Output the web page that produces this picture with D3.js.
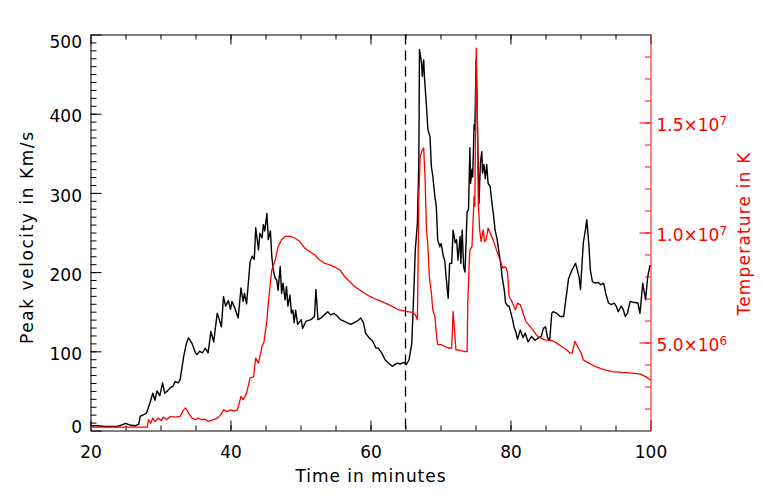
<!DOCTYPE html>
<html><head><meta charset="utf-8">
<script src="https://cdn.jsdelivr.net/npm/d3@7"></script>
<style>body{margin:0;background:#fff} svg text{font-family:"DejaVu Sans",sans-serif}</style>
</head><body><svg id="c" width="763" height="503"></svg>
<script>
// ---- data ----
const velTime = [20.0,21.0,22.0,23.0,23.8,24.5,25.0,25.6,26.4,26.9,27.1,27.6,28.0,28.5,28.9,29.2,29.5,29.9,30.3,30.6,31.0,31.4,31.8,32.1,32.5,32.8,33.3,33.7,34.0,34.5,35.0,35.2,35.6,36.0,36.4,36.8,37.2,37.6,38.1,38.4,38.7,39.0,39.3,39.7,40.0,40.2,40.6,41.1,41.5,41.8,42.0,42.3,42.8,43.1,43.4,43.6,44.0,44.2,44.5,44.7,44.9,45.2,45.4,45.7,45.9,46.1,46.4,46.6,46.8,47.1,47.3,47.5,47.8,48.0,48.2,48.5,48.7,48.9,49.1,49.3,49.6,50.1,50.3,50.8,51.5,52.0,52.2,52.5,52.9,53.4,53.9,54.3,54.8,55.3,55.7,56.2,56.7,57.2,57.6,58.1,58.6,59.0,59.3,59.8,60.3,60.8,61.1,61.6,62.1,62.6,63.1,63.8,64.3,64.8,65.1,65.5,65.9,66.2,66.4,66.7,66.9,67.0,67.3,67.4,67.6,67.7,68.0,68.2,68.5,68.7,68.9,69.2,69.4,69.6,69.9,70.1,70.4,70.6,70.8,71.1,71.3,71.6,71.8,72.1,72.3,72.5,72.8,72.9,73.1,73.3,73.5,73.8,74.0,74.2,74.3,74.5,74.6,74.8,74.9,75.1,75.3,75.5,75.7,75.9,76.0,76.2,76.4,76.6,76.8,77.1,77.3,77.6,77.8,78.1,78.3,78.6,78.8,79.1,79.3,79.6,79.8,80.0,80.3,80.5,80.8,81.0,81.4,81.8,82.1,82.5,83.0,83.5,84.0,84.4,84.7,85.0,85.3,85.6,85.9,86.1,86.6,87.1,87.6,87.9,88.3,88.8,89.3,89.8,90.0,90.4,90.7,90.9,91.2,91.4,91.7,92.1,92.5,92.9,93.3,93.6,94.0,94.4,94.8,95.1,95.4,95.8,96.1,96.4,96.7,97.1,97.5,98.2,98.5,98.9,99.3,99.6,99.9,100.0];
const velValue = [6,6,5,5,5,7,9,7,6,8,18,20,22,35,47,38,50,44,60,47,50,54,56,62,60,64,93,110,117,110,98,96,100,98,104,98,125,112,148,140,131,169,157,164,153,163,155,142,180,163,173,160,213,220,216,256,228,249,243,260,252,274,241,252,220,203,192,190,177,207,173,186,165,182,157,171,148,152,136,152,134,140,129,138,140,144,178,140,142,146,150,146,148,144,140,138,136,134,136,138,142,136,123,117,113,104,104,98,89,85,81,85,84,86,83,89,110,178,228,262,338,481,464,447,468,447,409,380,371,333,321,295,283,241,232,236,220,215,194,167,211,211,253,237,241,215,245,211,253,207,200,276,279,357,312,330,320,386,380,468,370,287,338,352,325,336,318,336,312,308,291,270,253,241,228,211,194,178,161,157,157,150,140,131,123,115,127,117,123,112,119,114,117,119,129,131,117,114,148,150,148,144,144,165,192,203,211,194,178,237,253,266,234,203,188,186,187,184,186,173,161,159,161,157,150,157,153,144,148,163,162,161,148,186,165,194,207,209];

const tempTime = [20.0,28.1,28.3,28.6,28.9,29.2,29.7,30.1,30.4,30.9,31.4,32.1,32.8,33.3,33.6,34.0,34.5,35.0,35.4,35.9,36.3,36.8,37.6,38.1,38.6,39.0,39.5,40.0,40.5,41.0,41.5,41.8,42.3,42.8,43.3,43.6,44.0,44.5,44.8,45.2,45.4,45.7,45.9,46.4,46.8,47.3,47.8,48.5,49.2,49.9,50.6,51.3,52.0,52.7,53.4,54.2,54.9,55.6,56.3,57.0,57.7,58.4,59.1,59.8,60.5,61.1,62.1,63.1,64.0,65.0,66.0,66.4,66.7,66.8,66.9,67.1,67.4,67.6,67.8,68.0,68.2,68.4,68.7,68.9,69.2,69.4,69.6,70.1,70.6,71.1,71.6,71.8,72.0,72.2,72.8,73.5,73.8,73.9,74.1,74.2,74.5,74.8,74.9,75.1,75.3,75.4,75.6,75.8,76.1,76.3,76.5,76.8,77.0,77.5,78.0,78.5,78.9,79.2,79.4,79.6,79.8,80.2,80.7,81.0,81.4,81.8,82.2,83.0,83.9,84.9,85.9,86.6,87.3,88.0,88.5,88.8,89.2,89.7,90.1,90.4,91.2,92.1,93.1,93.8,94.5,95.9,97.4,98.6,99.3,99.8,100.0];
const tempValue = [1.15e6,1.15e6,1.49e6,1.33e6,1.56e6,1.41e6,1.56e6,1.45e6,1.61e6,1.49e6,1.64e6,1.61e6,1.64e6,1.94e6,2.02e6,1.79e6,1.56e6,1.49e6,1.56e6,1.49e6,1.52e6,1.41e6,1.49e6,1.56e6,1.71e6,1.94e6,1.86e6,1.94e6,1.88e6,1.94e6,2.55e6,2.40e6,2.70e6,3.38e6,3.45e6,4.29e6,4.06e6,4.82e6,5.05e6,6.03e6,6.79e6,7.70e6,8.30e6,8.76e6,9.36e6,9.67e6,9.82e6,9.82e6,9.75e6,9.59e6,9.29e6,9.14e6,8.99e6,8.76e6,8.61e6,8.53e6,8.43e6,8.30e6,8.00e6,7.77e6,7.55e6,7.40e6,7.25e6,7.12e6,7.00e6,6.94e6,6.79e6,6.64e6,6.49e6,6.41e6,6.37e6,6.26e6,6.03e6,8.61e6,11.64e6,13.45e6,13.76e6,13.84e6,12.40e6,10.12e6,9.37e6,8.00e6,7.25e6,6.49e6,6.18e6,5.43e6,4.90e6,4.90e6,4.82e6,4.75e6,4.75e6,6.41e6,5.58e6,4.67e6,4.64e6,4.59e6,4.59e6,6.79e6,8.61e6,9.21e6,9.36e6,11.64e6,11.20e6,18.38e6,14.67e6,11.34e6,10.12e6,9.59e6,10.12e6,9.59e6,9.67e6,10.20e6,10.05e6,9.67e6,9.21e6,8.76e6,8.38e6,8.45e6,8.38e6,8.10e6,7.09e6,6.86e6,6.49e6,6.79e6,6.71e6,6.34e6,5.95e6,5.65e6,5.27e6,5.12e6,5.09e6,4.97e6,4.82e6,4.67e6,4.52e6,4.52e6,5.05e6,4.75e6,4.52e6,4.21e6,4.06e6,3.91e6,3.79e6,3.73e6,3.68e6,3.64e6,3.61e6,3.56e6,3.45e6,3.34e6,3.30e6];

const xMajorTicks = [20,40,60,80,100];
const velMajorTicks = [0,100,200,300,400,500];
const tempMajorTicks = [5e6,1e7,1.5e7];
const tempTickMantissa = ["5.0","1.0","1.5"];
const tempTickExponent = ["6","7","7"];
const markerTime = [65];
const xTitle = "Time in minutes";
const yLeftTitle = "Peak velocity in Km/s";
const yRightTitle = "Temperature in K";

// ---- drawing ----
const svg = d3.select('#c');
svg.append('rect').attr('width',763).attr('height',503).attr('fill','#fff');
const L=90.5,R=650.5,T=34.5,B=430.5;
const FS = 17;
const x = d3.scaleLinear().domain([20,100]).range([L,R]);
const yV = d3.scaleLinear().domain([0,500]).range([B,T]);
const yT = d3.scaleLinear().domain([1e6,1.9e7]).range([B,T]);

function styleAxis(g,color){
  g.attr('font-family','"DejaVu Sans",sans-serif').attr('font-size',FS).attr('color',color);
  g.selectAll('line').attr('stroke-width',1);
  g.select('.domain').attr('stroke-width',1);
}
// bottom
svg.append('g').attr('transform',`translate(0,${B})`)
  .call(d3.axisBottom(x).tickValues(d3.range(25,100,5)).tickSizeInner(-5).tickSizeOuter(0).tickFormat(''))
  .call(g=>{styleAxis(g,'#000');g.select('.domain').remove();});
svg.append('g').attr('transform',`translate(0,${B})`)
  .call(d3.axisBottom(x).tickValues(xMajorTicks).tickSizeInner(-10).tickSizeOuter(0).tickPadding(15))
  .call(g=>styleAxis(g,'#000'));
// top
svg.append('g').attr('transform',`translate(0,${T})`)
  .call(d3.axisTop(x).tickValues(d3.range(25,100,5)).tickSizeInner(-5).tickSizeOuter(0).tickFormat(''))
  .call(g=>{styleAxis(g,'#000');g.select('.domain').remove();});
svg.append('g').attr('transform',`translate(0,${T})`)
  .call(d3.axisTop(x).tickValues(xMajorTicks).tickSizeInner(-10).tickSizeOuter(0).tickFormat(''))
  .call(g=>styleAxis(g,'#000'));
// left
svg.append('g').attr('transform',`translate(${L},0)`)
  .call(d3.axisLeft(yV).tickValues(d3.range(10,500,10)).tickSizeInner(-6).tickSizeOuter(0).tickFormat(''))
  .call(g=>{styleAxis(g,'#000');g.select('.domain').remove();});
const gl = svg.append('g').attr('transform',`translate(${L},0)`)
  .call(d3.axisLeft(yV).tickValues(velMajorTicks).tickSizeInner(-11).tickSizeOuter(0).tickPadding(8.5))
  .call(g=>styleAxis(g,'#000'));
gl.selectAll('.tick text').attr('dy',d=> d===500 ? '0.78em' : (d===0 ? '0.1em' : '0.48em'));

// dashed marker
svg.selectAll('line.marker').data(markerTime).enter().append('line').attr('class','marker')
  .attr('x1',d=>x(d)).attr('x2',d=>x(d)).attr('y1',T).attr('y2',B)
  .attr('stroke','#000').attr('stroke-width',1.3).attr('stroke-dasharray','10,6');

// curves
const velData = velTime.map((t,i)=>[t,velValue[i]]);
const tempData = tempTime.map((t,i)=>[t,tempValue[i]]);
svg.append('path').datum(velData)
  .attr('d',d3.line().x(d=>x(d[0])).y(d=>yV(d[1])))
  .attr('fill','none').attr('stroke','#000').attr('stroke-width',1.4).attr('stroke-linejoin','round');
svg.append('path').datum(tempData)
  .attr('d',d3.line().x(d=>x(d[0])).y(d=>yT(d[1])))
  .attr('fill','none').attr('stroke','#ff0000').attr('stroke-width',1.3).attr('stroke-linejoin','round');

// right axis (red)
svg.append('g').attr('transform',`translate(${R},0)`)
  .call(d3.axisRight(yT).tickValues(d3.range(2e6,1.85e7,1e6)).tickSizeInner(-5.5).tickSizeOuter(0).tickFormat(''))
  .call(g=>{styleAxis(g,'#ff0000');g.select('.domain').remove();});
const gr = svg.append('g').attr('transform',`translate(${R},0)`)
  .call(d3.axisRight(yT).tickValues(tempMajorTicks).tickSizeInner(-11).tickSizeOuter(0).tickPadding(6))
  .call(g=>styleAxis(g,'#ff0000'));
gr.selectAll('.tick text').each(function(d,i){
  const t = d3.select(this).text('').attr('dy','0.48em');
  t.append('tspan').text(tempTickMantissa[i]+'×10');
  t.append('tspan').attr('dy','-0.5em').attr('font-size',12).text(tempTickExponent[i]);
});

// titles
svg.append('text').attr('x',(L+R)/2).attr('y',482).attr('text-anchor','middle')
  .attr('font-size',FS).attr('fill','#000')
  .attr('textLength',150).attr('lengthAdjust','spacing').text(xTitle);
svg.append('text').attr('transform','translate(33,238) rotate(-90)').attr('text-anchor','middle')
  .attr('font-size',FS).attr('fill','#000')
  .attr('textLength',212).attr('lengthAdjust','spacing').text(yLeftTitle);
svg.append('text').attr('transform','translate(750,234) rotate(-90)').attr('text-anchor','middle')
  .attr('font-size',FS).attr('fill','#ff0000')
  .attr('textLength',163).attr('lengthAdjust','spacing').text(yRightTitle);
</script></body></html>
